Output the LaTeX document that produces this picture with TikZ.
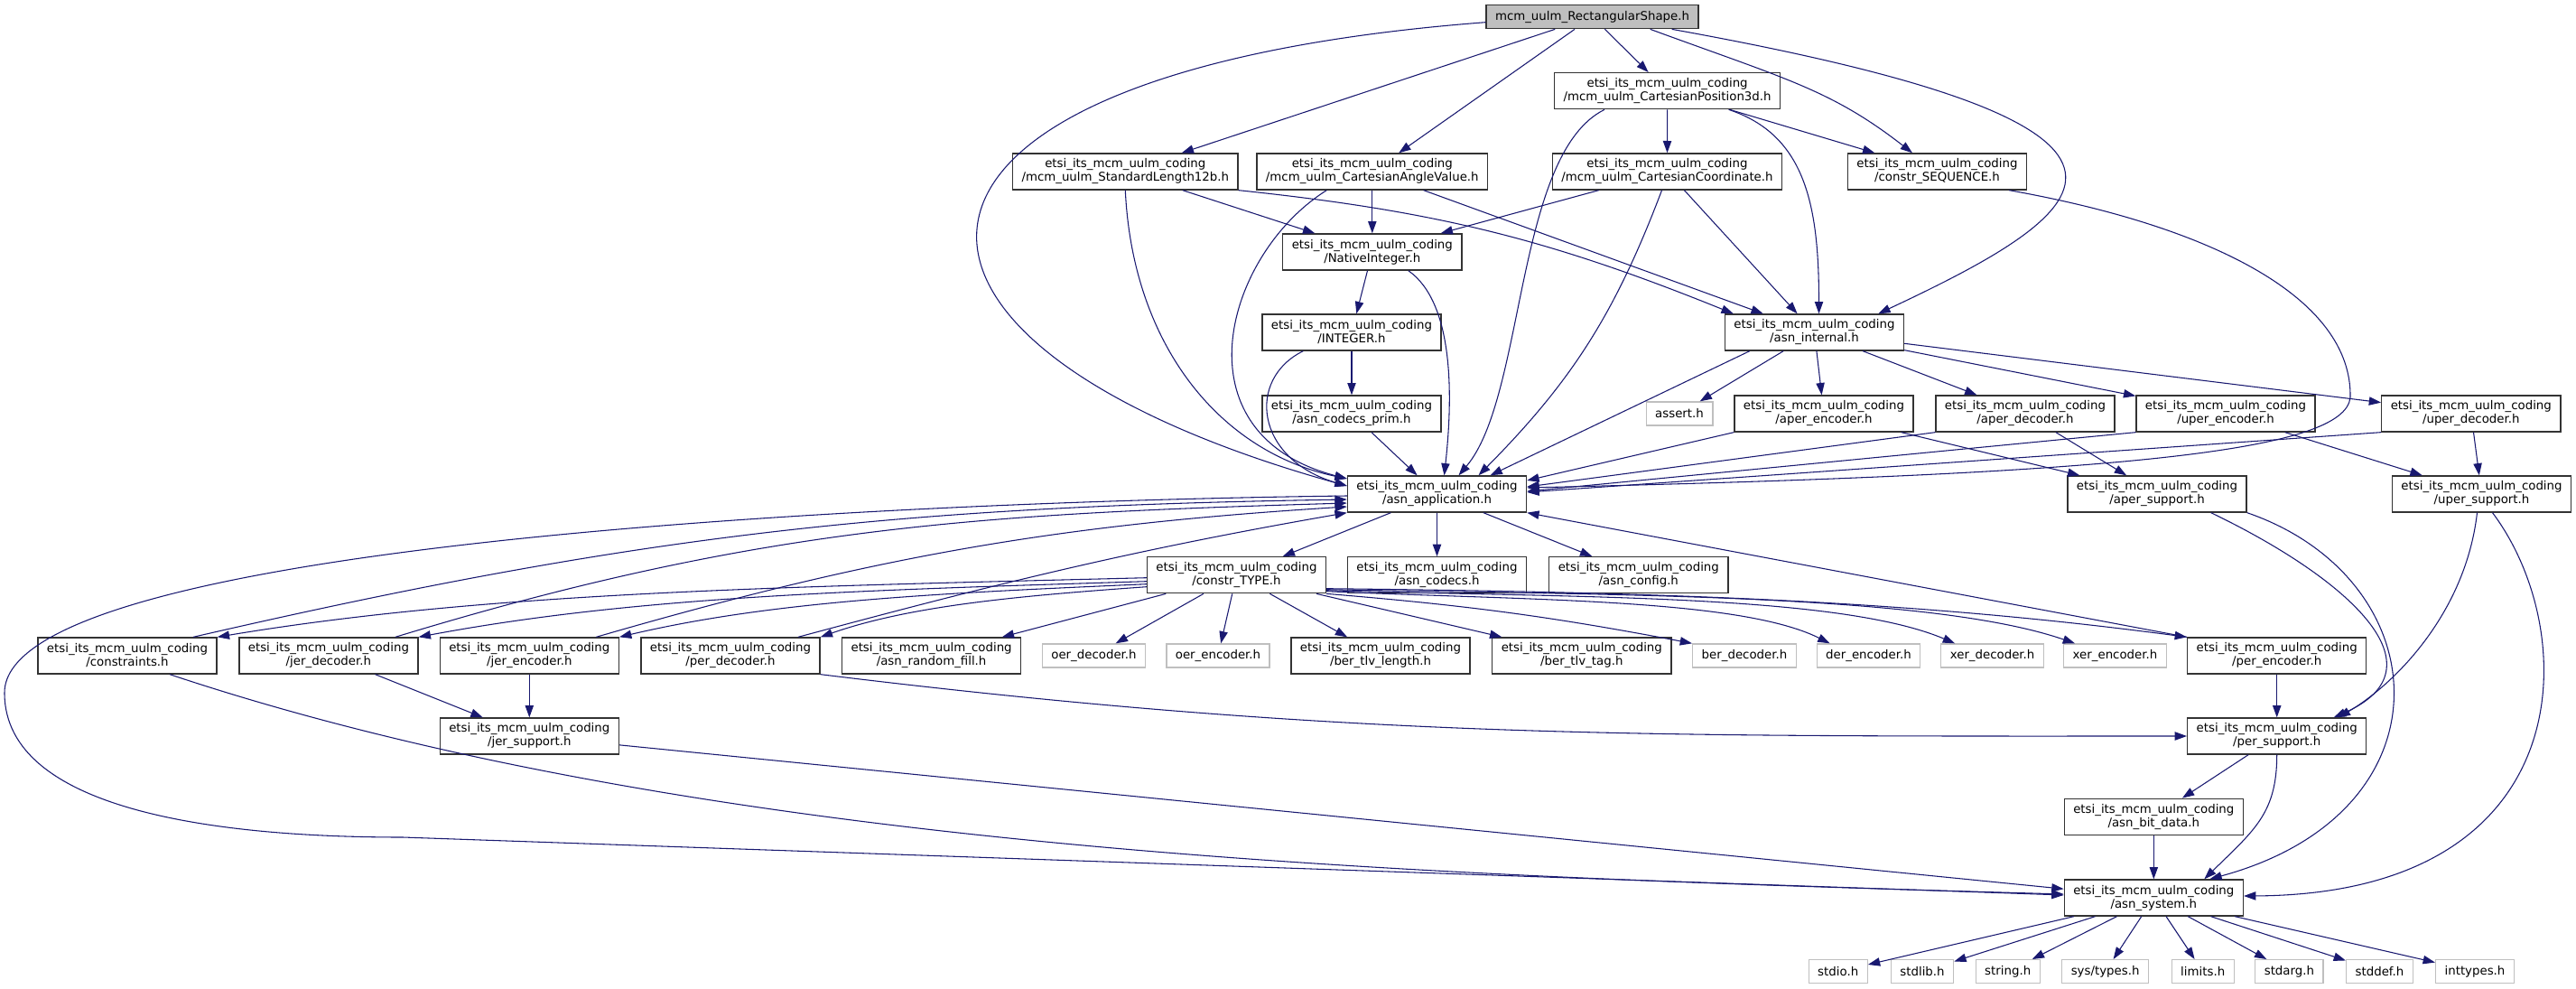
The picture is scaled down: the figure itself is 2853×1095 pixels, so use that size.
\documentclass[tikz,border=0pt]{standalone}
\usepackage{fontspec}
\setmainfont{DejaVu Sans}
\usepackage{tikz}
\usetikzlibrary{arrows.meta,calc}
\definecolor{edgeblue}{HTML}{191970}
\newcommand{\mcmdir}{etsi\_its\_mcm\_uulm\_coding}

\begin{document}
\begin{tikzpicture}[x=0.75pt, y=0.75pt]

\tikzstyle{filebox}=[rectangle, draw=black!80, line width=1pt, fill=white, align=center, inner xsep=7.5pt, inner ysep=0pt, minimum height=30pt, font=\fontsize{10}{11.25}\selectfont]
\tikzstyle{sysbox}=[rectangle, draw=black!25, line width=1pt, fill=white, inner xsep=7.5pt, inner ysep=0pt, minimum height=19.5pt, font=\fontsize{10}{11.25}\selectfont]
\tikzstyle{rootbox}=[rectangle, draw=black!80, line width=1pt, fill=black!25, inner xsep=7.5pt, inner ysep=0pt, minimum height=19.5pt, font=\fontsize{10}{11.25}\selectfont]
\tikzstyle{incl}=[draw=edgeblue, line width=0.8pt, -{Triangle[length=10pt,width=7pt]}]

\useasboundingbox (0,0) rectangle (2853,-1095);

% headers, top to bottom
\node (R)   [rootbox] at (1763.5,-18.7) {mcm\_uulm\_RectangularShape.h};
\node (CP)  [filebox] at (1846.6,-100.7) {\mcmdir\\/mcm\_uulm\_CartesianPosition3d.h};
\node (SL)  [filebox] at (1246.3,-190) {\mcmdir\\/mcm\_uulm\_StandardLength12b.h};
\node (CAV) [filebox] at (1519.8,-190) {\mcmdir\\/mcm\_uulm\_CartesianAngleValue.h};
\node (CC)  [filebox] at (1846.5,-190) {\mcmdir\\/mcm\_uulm\_CartesianCoordinate.h};
\node (CS)  [filebox] at (2145.5,-190) {\mcmdir\\/constr\_SEQUENCE.h};
\node (NI)  [filebox] at (1519.8,-279) {\mcmdir\\/NativeInteger.h};
\node (INT) [filebox] at (1497,-368) {\mcmdir\\/INTEGER.h};
\node (AI)  [filebox] at (2009.5,-368) {\mcmdir\\/asn\_internal.h};
\node (ACP) [filebox] at (1497,-458) {\mcmdir\\/asn\_codecs\_prim.h};
\node (AST) [sysbox]  at (1860,-458) {assert.h};
\node (AE)  [filebox] at (2020,-458) {\mcmdir\\/aper\_encoder.h};
\node (AD)  [filebox] at (2243,-458) {\mcmdir\\/aper\_decoder.h};
\node (UE)  [filebox] at (2465,-458) {\mcmdir\\/uper\_encoder.h};
\node (UD)  [filebox] at (2736.8,-458) {\mcmdir\\/uper\_decoder.h};
\node (AA)  [filebox] at (1591.5,-547) {\mcmdir\\/asn\_application.h};
\node (AS)  [filebox] at (2389,-547) {\mcmdir\\/aper\_support.h};
\node (US)  [filebox] at (2748.5,-547) {\mcmdir\\/uper\_support.h};
\node (CT)  [filebox] at (1369.5,-636.7) {\mcmdir\\/constr\_TYPE.h};
\node (AC)  [filebox] at (1591.5,-636.7) {\mcmdir\\/asn\_codecs.h};
\node (ACF) [filebox] at (1814.8,-636.7) {\mcmdir\\/asn\_config.h};
\node (CON) [filebox] at (141,-726) {\mcmdir\\/constraints.h};
\node (JD)  [filebox] at (363.9,-726) {\mcmdir\\/jer\_decoder.h};
\node (JE)  [filebox] at (586.3,-726) {\mcmdir\\/jer\_encoder.h};
\node (PD)  [filebox] at (809,-726) {\mcmdir\\/per\_decoder.h};
\node (ARF) [filebox] at (1031.6,-726) {\mcmdir\\/asn\_random\_fill.h};
\node (OD)  [sysbox]  at (1211.5,-726) {oer\_decoder.h};
\node (OE)  [sysbox]  at (1349,-726) {oer\_encoder.h};
\node (BTL) [filebox] at (1529,-726) {\mcmdir\\/ber\_tlv\_length.h};
\node (BTT) [filebox] at (1751.8,-726) {\mcmdir\\/ber\_tlv\_tag.h};
\node (BD)  [sysbox]  at (1932,-726) {ber\_decoder.h};
\node (DE)  [sysbox]  at (2069.5,-726) {der\_encoder.h};
\node (XD)  [sysbox]  at (2206.6,-726) {xer\_decoder.h};
\node (XE)  [sysbox]  at (2342.5,-726) {xer\_encoder.h};
\node (PE)  [filebox] at (2521.7,-726) {\mcmdir\\/per\_encoder.h};
\node (JS)  [filebox] at (586.3,-815) {\mcmdir\\/jer\_support.h};
\node (PS)  [filebox] at (2521.7,-815) {\mcmdir\\/per\_support.h};
\node (ABD) [filebox] at (2385.3,-904.3) {\mcmdir\\/asn\_bit\_data.h};
\node (SYS) [filebox] at (2385.3,-994) {\mcmdir\\/asn\_system.h};
\node (stdio)    [sysbox] at (2035.7,-1075.7) {stdio.h};
\node (stdlib)   [sysbox] at (2129,-1075.7) {stdlib.h};
\node (string)   [sysbox] at (2223.7,-1075.7) {string.h};
\node (systypes) [sysbox] at (2331.6,-1075.7) {sys/types.h};
\node (limits)   [sysbox] at (2439.7,-1075.7) {limits.h};
\node (stdarg)   [sysbox] at (2535.4,-1075.7) {stdarg.h};
\node (stddef)   [sysbox] at (2635.5,-1075.7) {stddef.h};
\node (inttypes) [sysbox] at (2741,-1075.7) {inttypes.h};

% includes of the root header
\draw [incl] (R) -- (SL);
\draw [incl] (R) -- (CAV);
\draw [incl] (R) -- (CP);
\draw [incl] ($(R.south east)+(-54,0)$) .. controls +(150,-55) and +(-90,70) .. ($(CS.north)+(-27.5,0)$);
\draw [incl] ($(R.south east)+(-30,0)$) .. controls +(600,-108) and +(250,117) .. ($(AI.north east)+(-29,0)$);
\draw [incl] ($(R.west)+(0,-6)$) .. controls +(-722,-55) and +(-567,158) .. ($(AA.west)+(0,9)$);

\draw [incl] (CP) -- (CC);
\draw [incl] (CP) -- (CS);
\draw [incl] ($(CP.south)+(68,0)$) .. controls +(85,-28) and +(0,120) .. ($(AI.north)+(5,0)$);
\draw [incl] ($(CP.south west)+(56,0)$) .. controls +(-99,-49) and +(74,87) .. ($(AA.north)+(24,0)$);

\draw [incl] (SL) -- (NI);
\draw [incl] (SL.south east) to [bend left=8] ($(AI.north west)+(10,0)$);
\draw [incl] (SL.south) .. controls +(8,-170) and +(-142,30) .. ($(AA.west)+(0,17)$);

\draw [incl] (CAV) -- (NI);
\draw [incl] (CAV) -- (AI);
\draw [incl] ($(CAV.south west)+(78,0)$) .. controls +(-112,-70) and +(-192,50) .. ($(AA.west)+(0,17)$);

\draw [incl] (CC) -- (NI);
\draw [incl] (CC) -- (AI);
\draw [incl] ($(CC.south)+(-6,0)$) to [bend left=12] ($(AA.north)+(46,0)$);

% constr_SEQUENCE.h loops between the uper headers
\draw [incl] ($(CS.south east)+(-20,0)$) .. controls +(225,-40) and +(2,110) .. (2603,-440) .. controls +(-6,-60) and +(658,15) .. ($(AA.east)+(0,7)$);

\draw [incl] (NI) -- (INT);
\draw [incl] ($(NI.south)+(40,0)$) .. controls +(50,-35) and +(10,90) .. ($(AA.north)+(8,0)$);
\draw [incl] (INT) -- (ACP);
\draw [incl] ($(INT.south west)+(46,0)$) .. controls +(-63,-31) and +(-102,30) .. ($(AA.west)+(0,9)$);
\draw [incl] (ACP) -- (AA);

% asn_internal.h and the aper/uper headers
\draw [incl] (AI) -- (AST);
\draw [incl] (AI) -- (AE);
\draw [incl] (AI) -- (AD);
\draw [incl] (AI) -- (UE);
\draw [incl] (AI) -- (UD);
\draw [incl] ($(AI.south west)+(28,0)$) -- ($(AA.north)+(59,0)$);
\draw [incl] (AE.south west) -- ($(AA.east)+(0,15)$);
\draw [incl] (AE) -- (AS);
\draw [incl] (AD.south west) -- ($(AA.east)+(0,8)$);
\draw [incl] (AD) -- (AS);
\draw [incl] (UE.south west) -- ($(AA.east)+(0,3)$);
\draw [incl] (UE) -- (US);
\draw [incl] (UD.south west) -- ($(AA.east)+(0,2)$);
\draw [incl] (UD) -- (US);
\draw [incl] ($(AS.south east)+(-40,0)$) .. controls +(152,-73) and +(125,55) .. ($(PS.north)+(63,0)$);
\draw [incl] (AS.south east) .. controls +(212,-73) and +(273,74) .. ($(SYS.north)+(62,0)$);
\draw [incl] ($(US.south)+(-5,0)$) .. controls +(-13,-113) and +(60,35) .. ($(PS.north)+(68,0)$);
\draw [incl] ($(US.south)+(12,0)$) .. controls +(100,-133) and +(375,2) .. ($(SYS.east)+(0,2)$);

% asn_application.h
\draw [incl] (AA) -- (CT);
\draw [incl] (AA) -- (AC);
\draw [incl] (AA) -- (ACF);
\draw [incl] ($(AA.west)+(0,-2)$) .. controls +(-492,-6) and +(0,167) .. (5,-767) .. controls +(0,-133) and +(-196,0) .. (446,-927) -- ($(SYS.west)+(0,3)$);

% constr_TYPE.h
\draw [incl] ($(CT.west)+(0,-3)$) .. controls +(-400,-10) and +(300,50) .. (CON.north east);
\draw [incl] ($(CT.west)+(0,-7)$) .. controls +(-320,-10) and +(240,45) .. (JD.north east);
\draw [incl] ($(CT.west)+(0,-10)$) .. controls +(-230,-10) and +(170,40) .. (JE.north east);
\draw [incl] ($(CT.west)+(0,-13)$) .. controls +(-140,-10) and +(100,35) .. (PD.north east);
\draw [incl] (CT) -- (ARF);
\draw [incl] (CT) -- (OD);
\draw [incl] (CT) -- (OE);
\draw [incl] (CT) -- (BTL);
\draw [incl] (CT) -- (BTT);
\draw [incl] (CT.south east) to [bend left=3] (BD.north west);
\draw [incl] ($(CT.east)+(0,-18)$) .. controls +(220,-10) and +(-100,50) .. ($(DE.north west)+(15,0)$);
\draw [incl] ($(CT.east)+(0,-17)$) .. controls +(270,-8) and +(-130,55) .. ($(XD.north west)+(16,0)$);
\draw [incl] ($(CT.east)+(0,-16)$) .. controls +(320,-6) and +(-160,55) .. ($(XE.north west)+(13,0)$);
\draw [incl] ($(CT.east)+(0,-15)$) .. controls +(380,-4) and +(-300,40) .. (PE.north west);

% codec headers back to asn_application.h
\draw [incl] ($(CON.north)+(73,0)$) .. controls +(490,113) and +(-500,-8) .. ($(AA.west)+(0,-6)$);
\draw [incl] ($(JD.north)+(74,0)$) .. controls +(400,122) and +(-410,-12) .. ($(AA.west)+(0,-10)$);
\draw [incl] ($(JE.north)+(74,0)$) .. controls +(310,90) and +(-320,-20) .. ($(AA.west)+(0,-14)$);
\draw [incl] ($(PD.north)+(75,0)$) .. controls +(230,62) and +(-230,-40) .. (AA.south west);
\draw [incl] (PE.north west) -- (AA.south east);

\draw [incl] ($(CON.south)+(47,0)$) .. controls +(600,-200) and +(-700,20) .. ($(SYS.west)+(0,4)$);
\draw [incl] (JD) -- (JS);
\draw [incl] (JE) -- (JS);
\draw [incl] (JS) -- (SYS);
\draw [incl] (PD.south east) .. controls +(586,-72) and +(-590,0) .. (PS.west);
\draw [incl] (PE) -- (PS);
\draw [incl] (PS) -- (ABD);
\draw [incl] (PS.south) .. controls +(0,-65) and +(55,54) .. ($(SYS.north)+(56,0)$);
\draw [incl] (ABD) -- (SYS);

% asn_system.h
\draw [incl] (SYS) -- (stdio);
\draw [incl] (SYS) -- (stdlib);
\draw [incl] (SYS) -- (string);
\draw [incl] (SYS) -- (systypes);
\draw [incl] (SYS) -- (limits);
\draw [incl] (SYS) -- (stdarg);
\draw [incl] (SYS) -- (stddef);
\draw [incl] (SYS) -- (inttypes);

\end{tikzpicture}
\end{document}
